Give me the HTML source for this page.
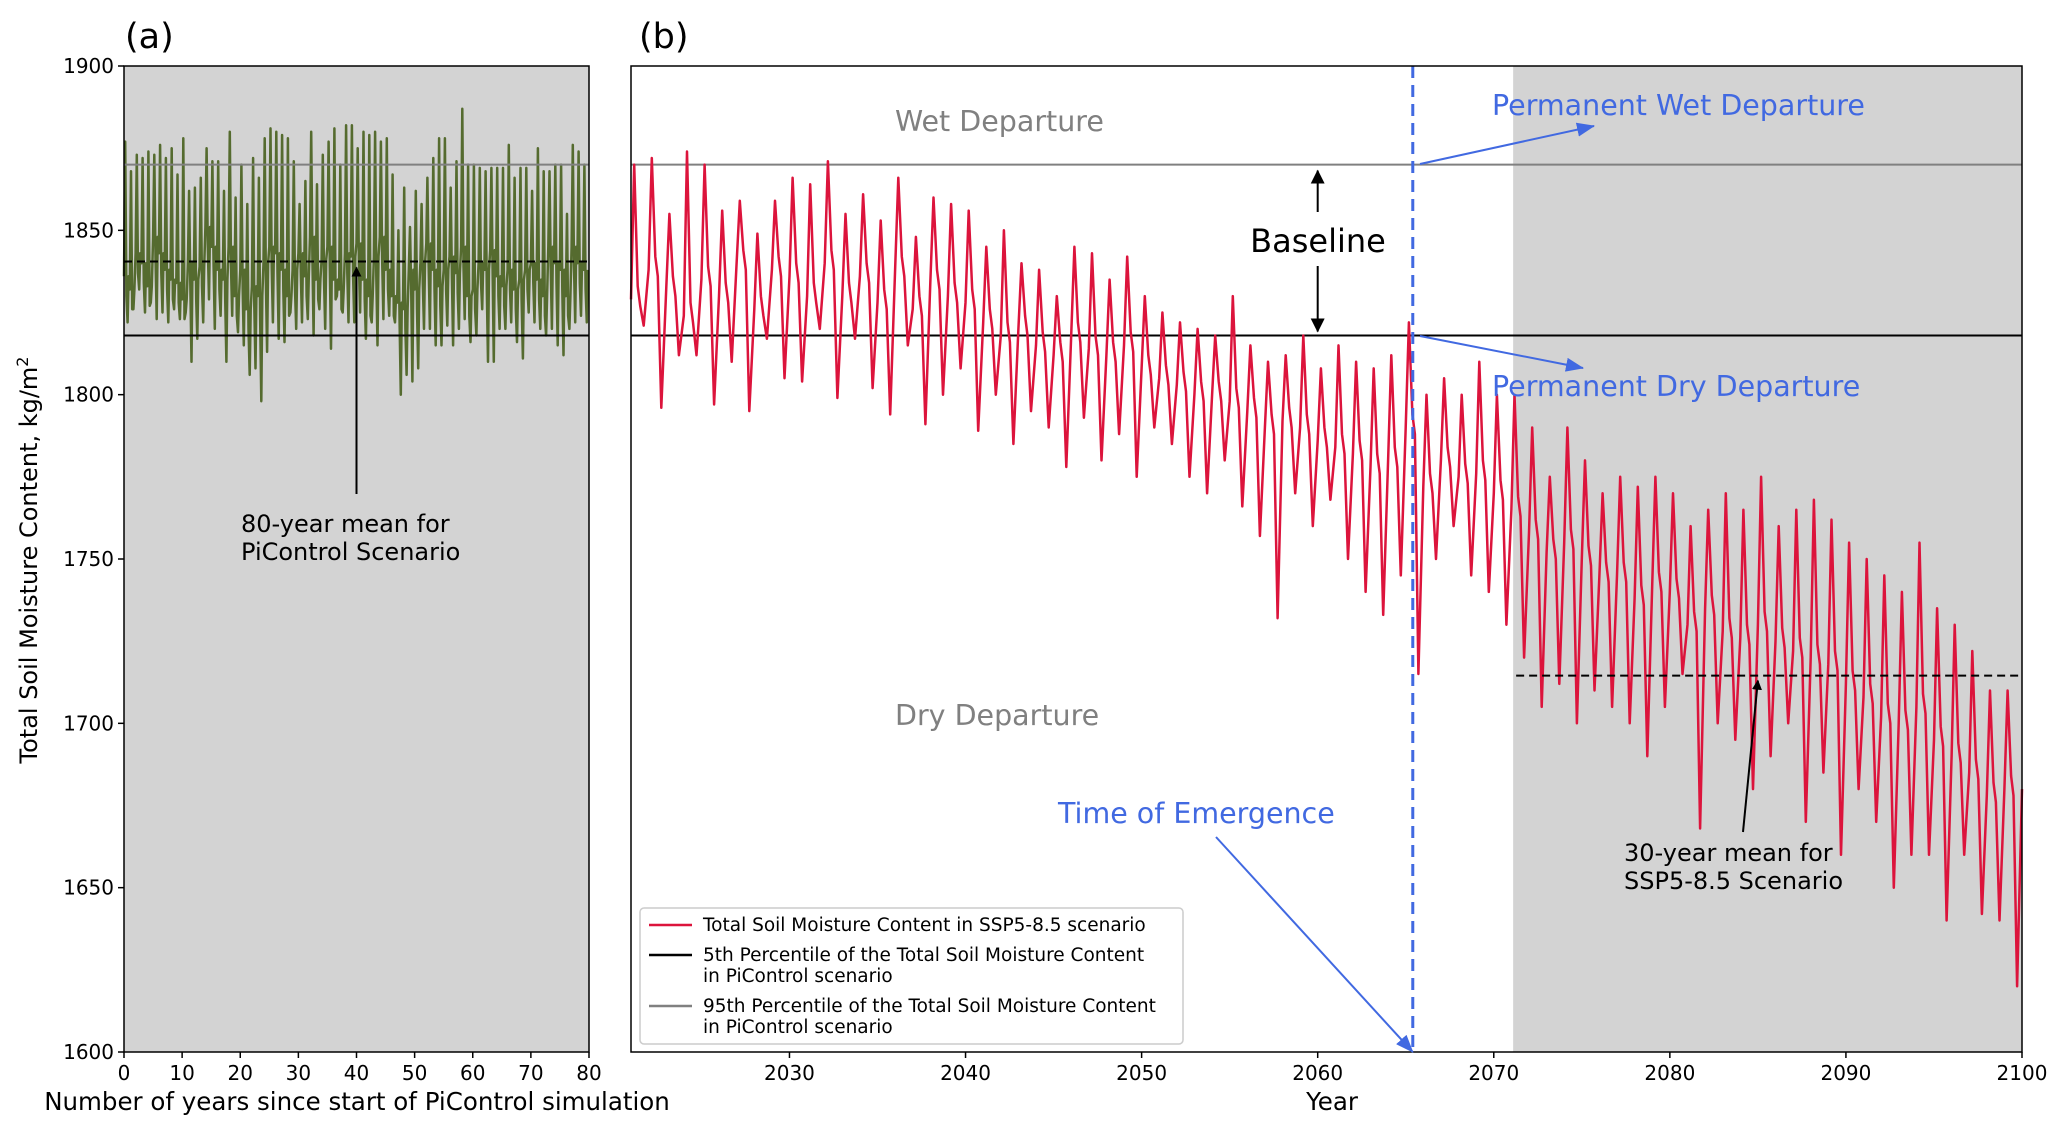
<!DOCTYPE html>
<html><head><meta charset="utf-8"><style>
body{margin:0;background:#fff}
svg{display:block;font-family:"DejaVu Sans","Liberation Sans",sans-serif}
</style></head><body>
<svg id="fig" width="2067" height="1134" viewBox="0 0 2067 1134" xmlns="http://www.w3.org/2000/svg">
<defs>
<marker id="ak" markerWidth="10" markerHeight="10" refX="9" refY="5" orient="auto" markerUnits="userSpaceOnUse"><path d="M0,0 L10,5 L0,10 z" fill="#000"/></marker>
<marker id="ab" markerWidth="18" markerHeight="14" refX="17" refY="7" orient="auto" markerUnits="userSpaceOnUse"><path d="M0,0 L18,7 L0,14 z" fill="#4169e1"/></marker>
<marker id="ak2" markerWidth="14" markerHeight="14" refX="13" refY="7" orient="auto" markerUnits="userSpaceOnUse"><path d="M0,0 L14,7 L0,14 z" fill="#000"/></marker>
</defs>
<g id="gA"></g>
<g id="gB"></g>
</svg>
<script>
// ---------- data ----------
const yTicks=[1600,1650,1700,1750,1800,1850,1900];
const aTicks=[0,10,20,30,40,50,60,70,80];
const bTicks=[2030,2040,2050,2060,2070,2080,2090,2100];
const p5=1818, p95=1870, piMean=1840.5, sspMean=1714.5, toeYear=2065.4, shadeStart=2071.1;
// panel a yearly highs / lows / mids (PiControl)
const aHigh=[1877,1868,1873,1872,1874,1873,1876,1872,1875,1867,1878,1862,1863,1866,1875,1871,1871,1862,1880,1860,1870,1858,1872,1866,1878,1881,1880,1879,1878,1871,1858,1865,1880,1864,1873,1877,1881,1870,1882,1882,1875,1880,1879,1880,1877,1878,1867,1850,1863,1851,1862,1858,1866,1872,1878,1878,1863,1871,1887,1870,1870,1869,1868,1869,1869,1869,1876,1866,1869,1869,1862,1875,1868,1868,1870,1870,1855,1876,1874,1870];
const aLow=[1822,1826,1832,1825,1828,1823,1825,1822,1826,1823,1825,1810,1817,1822,1829,1820,1824,1810,1824,1819,1815,1806,1808,1798,1813,1822,1817,1816,1825,1820,1822,1823,1818,1826,1820,1814,1830,1825,1822,1822,1825,1817,1822,1815,1823,1824,1822,1800,1806,1804,1808,1820,1820,1815,1815,1821,1815,1820,1823,1816,1818,1826,1810,1810,1820,1820,1822,1816,1811,1825,1822,1820,1818,1820,1815,1812,1820,1822,1824,1822];
const aMid=[1836,1832,1843,1840,1833,1848,1843,1838,1835,1834,1829,1840,1835,1839,1851,1845,1838,1835,1845,1830,1838,1826,1833,1830,1840,1845,1843,1838,1830,1838,1843,1836,1848,1835,1841,1845,1835,1832,1843,1842,1846,1835,1830,1842,1848,1838,1830,1828,1826,1838,1832,1840,1846,1838,1833,1838,1842,1837,1845,1830,1832,1840,1838,1844,1836,1833,1838,1832,1835,1838,1840,1835,1830,1845,1840,1838,1830,1845,1840,1838];
// panel b yearly peaks / troughs / shoulders (SSP5-8.5), years 2021..2099
const bYears=[2021,2022,2023,2024,2025,2026,2027,2028,2029,2030,2031,2032,2033,2034,2035,2036,2037,2038,2039,2040,2041,2042,2043,2044,2045,2046,2047,2048,2049,2050,2051,2052,2053,2054,2055,2056,2057,2058,2059,2060,2061,2062,2063,2064,2065,2066,2067,2068,2069,2070,2071,2072,2073,2074,2075,2076,2077,2078,2079,2080,2081,2082,2083,2084,2085,2086,2087,2088,2089,2090,2091,2092,2093,2094,2095,2096,2097,2098,2099];
const bPeak=[1870,1872,1855,1874,1870,1856,1859,1849,1859,1866,1864,1871,1855,1861,1853,1866,1848,1860,1858,1856,1845,1850,1840,1838,1830,1845,1843,1835,1842,1830,1825,1822,1820,1818,1830,1815,1810,1812,1818,1808,1815,1810,1808,1812,1822,1800,1805,1800,1810,1800,1800,1790,1775,1790,1780,1770,1775,1772,1775,1770,1760,1765,1770,1765,1775,1760,1765,1768,1762,1755,1750,1745,1740,1755,1735,1730,1722,1710,1710];
const bTrough=[1821,1796,1812,1812,1797,1810,1795,1817,1805,1804,1820,1799,1817,1802,1794,1815,1791,1800,1808,1789,1800,1785,1795,1790,1778,1793,1780,1788,1775,1790,1785,1775,1770,1780,1766,1757,1732,1770,1760,1768,1750,1740,1733,1745,1715,1750,1760,1745,1740,1730,1720,1705,1712,1700,1710,1705,1700,1690,1705,1715,1668,1700,1695,1680,1690,1700,1670,1685,1660,1680,1670,1650,1660,1660,1640,1660,1642,1640,1620];
const bShoulder=[1829,1838,1832,1824,1835,1830,1840,1826,1838,1836,1830,1840,1830,1836,1828,1838,1826,1834,1830,1828,1822,1818,1820,1815,1812,1818,1814,1812,1815,1808,1805,1803,1800,1800,1798,1795,1790,1792,1790,1786,1784,1782,1778,1780,1790,1772,1780,1775,1776,1770,1765,1758,1752,1755,1750,1745,1745,1738,1742,1740,1730,1735,1728,1726,1730,1725,1722,1720,1718,1712,1708,1702,1700,1705,1695,1690,1685,1678,1680];

// ---------- geometry ----------
const Y0=1052, Y1=66;
const ys=v=>Y0-(v-1600)/(1900-1600)*(Y0-Y1);
const AL=124, AR=589, BL=631, BR=2022;
const xa=v=>AL+v/80*(AR-AL);
const xb=v=>BL+(v-2021)/(2100-2021)*(BR-BL);
const NS="http://www.w3.org/2000/svg";
function mk(parent,tag,attrs,text){const e=document.createElementNS(NS,tag);for(const k in attrs)e.setAttribute(k,attrs[k]);if(text!==undefined)e.textContent=text;parent.appendChild(e);return e;}
const gA=document.getElementById('gA'), gB=document.getElementById('gB');

// ---------- panel a ----------
let r=mk(gA,'rect',{x:AL,y:Y1,width:AR-AL,height:Y0-Y1,fill:'#d3d3d3'});


let pts=[];
for(let i=0;i<aHigh.length;i++){
  const x0=xa(i);
  pts.push([x0,aMid[i]],[x0+1.2,aHigh[i]],[x0+2.4,aMid[i]-6],[x0+3.6,aLow[i]],[x0+4.6,aMid[i]]);
}
let pl=mk(gA,'polyline',{points:pts.map(p=>p[0].toFixed(1)+','+ys(p[1]).toFixed(1)).join(' '),fill:'none',stroke:'#556b2f','stroke-width':2.5,'stroke-linejoin':'round'});


let l=mk(gA,'line',{x1:AL,x2:AR,y1:ys(p95),y2:ys(p95),stroke:'#808080','stroke-width':2});


l=mk(gA,'line',{x1:AL,x2:AR,y1:ys(p5),y2:ys(p5),stroke:'#000','stroke-width':2});


l=mk(gA,'line',{x1:AL,x2:AR,y1:ys(piMean),y2:ys(piMean),stroke:'#000','stroke-width':2,'stroke-dasharray':'8,5'});


l=mk(gA,'line',{x1:xa(40),x2:xa(40),y1:494,y2:ys(piMean)+6,stroke:'#000','stroke-width':2,'marker-end':'url(#ak)'});


let t=mk(gA,'text',{x:241,y:532,'font-size':24},'80-year mean for');


mk(gA,'text',{x:241,y:560,'font-size':24},'PiControl Scenario');
r=mk(gA,'rect',{x:AL,y:Y1,width:AR-AL,height:Y0-Y1,fill:'none',stroke:'#000','stroke-width':1.5});


yTicks.forEach(v=>{
  mk(gA,'line',{x1:AL-6,x2:AL,y1:ys(v),y2:ys(v),stroke:'#000','stroke-width':1.5});
  const tt=mk(gA,'text',{x:AL-10,y:ys(v)+7,'font-size':20,'text-anchor':'end'},v);
  
  
});
aTicks.forEach(v=>{
  mk(gA,'line',{x1:xa(v),x2:xa(v),y1:Y0,y2:Y0+6,stroke:'#000','stroke-width':1.5});
  const tt=mk(gA,'text',{x:xa(v),y:Y0+28,'font-size':20,'text-anchor':'middle'},v);
  
  
});
t=mk(gA,'text',{x:357,y:1110,'font-size':24.5,'text-anchor':'middle'},'Number of years since start of PiControl simulation');


t=mk(gA,'text',{x:0,y:0,'font-size':24,'text-anchor':'middle',transform:'translate(37,560) rotate(-90)'});


t.innerHTML='Total Soil Moisture Content, kg/m<tspan dy="-9" font-size="16">2</tspan>';
t=mk(gA,'text',{x:125,y:48,'font-size':35},'(a)');



// ---------- panel b ----------
r=mk(gB,'rect',{x:xb(shadeStart),y:Y1,width:BR-xb(shadeStart),height:Y0-Y1,fill:'#d3d3d3'});


l=mk(gB,'line',{x1:BL,x2:BR,y1:ys(p95),y2:ys(p95),stroke:'#808080','stroke-width':2});


l=mk(gB,'line',{x1:BL,x2:BR,y1:ys(p5),y2:ys(p5),stroke:'#000','stroke-width':2});


pts=[];
for(let i=0;i<bYears.length;i++){
  const y=bYears[i];
  pts.push([y,bShoulder[i]],[y+0.18,bPeak[i]],[y+0.38,bShoulder[i]+4],[y+0.52,bShoulder[i]-2],[y+0.72,bTrough[i]]);
}
pts.push([2100,bShoulder[bShoulder.length-1]]);
pl=mk(gB,'polyline',{points:pts.map(p=>xb(p[0]).toFixed(1)+','+ys(p[1]).toFixed(1)).join(' '),fill:'none',stroke:'#dc143c','stroke-width':2.5,'stroke-linejoin':'round'});


l=mk(gB,'line',{x1:xb(shadeStart)+3,x2:BR,y1:ys(sspMean),y2:ys(sspMean),stroke:'#000','stroke-width':2,'stroke-dasharray':'8,5'});


l=mk(gB,'line',{x1:xb(toeYear),x2:xb(toeYear),y1:Y1,y2:Y0,stroke:'#4169e1','stroke-width':3,'stroke-dasharray':'12,7'});


r=mk(gB,'rect',{x:BL,y:Y1,width:BR-BL,height:Y0-Y1,fill:'none',stroke:'#000','stroke-width':1.5});


bTicks.forEach(v=>{
  mk(gB,'line',{x1:xb(v),x2:xb(v),y1:Y0,y2:Y0+6,stroke:'#000','stroke-width':1.5});
  const tt=mk(gB,'text',{x:xb(v),y:Y0+28,'font-size':20,'text-anchor':'middle'},v);
  
  
});
t=mk(gB,'text',{x:1332,y:1110,'font-size':24.5,'text-anchor':'middle'},'Year');


t=mk(gB,'text',{x:639,y:48,'font-size':35},'(b)');


t=mk(gB,'text',{x:895,y:131,'font-size':28.5,fill:'#808080'},'Wet Departure');


t=mk(gB,'text',{x:895,y:725,'font-size':28.5,fill:'#808080'},'Dry Departure');


t=mk(gB,'text',{x:1318,y:252,'font-size':32,'text-anchor':'middle'},'Baseline');


l=mk(gB,'line',{x1:xb(2060),x2:xb(2060),y1:212,y2:ys(p95)+6,stroke:'#000','stroke-width':2,'marker-end':'url(#ak2)'});


l=mk(gB,'line',{x1:xb(2060),x2:xb(2060),y1:266,y2:ys(p5)-4,stroke:'#000','stroke-width':2,'marker-end':'url(#ak2)'});


t=mk(gB,'text',{x:1492,y:115,'font-size':28.5,fill:'#4169e1'},'Permanent Wet Departure');


l=mk(gB,'line',{x1:1420,y1:164,x2:1594,y2:126,stroke:'#4169e1','stroke-width':2,'marker-end':'url(#ab)'});


t=mk(gB,'text',{x:1492,y:396,'font-size':28.5,fill:'#4169e1'},'Permanent Dry Departure');


l=mk(gB,'line',{x1:1420,y1:336,x2:1583,y2:368,stroke:'#4169e1','stroke-width':2,'marker-end':'url(#ab)'});


t=mk(gB,'text',{x:1058,y:823,'font-size':28.5,fill:'#4169e1'},'Time of Emergence');


l=mk(gB,'line',{x1:1216,y1:837,x2:xb(toeYear),y2:Y0,stroke:'#4169e1','stroke-width':2,'marker-end':'url(#ab)'});


t=mk(gB,'text',{x:1624,y:861,'font-size':24},'30-year mean for');


mk(gB,'text',{x:1624,y:889,'font-size':24},'SSP5-8.5 Scenario');
l=mk(gB,'line',{x1:1743,y1:832,x2:xb(2085),y2:ys(sspMean)+5,stroke:'#000','stroke-width':2,'marker-end':'url(#ak)'});


// legend
const lg=mk(gB,'g',{});


mk(lg,'rect',{x:640,y:908,width:543,height:136,rx:4,fill:'#fff','fill-opacity':0.85,stroke:'#ccc','stroke-width':1.5});
const legItems=[['#dc143c',925,['Total Soil Moisture Content in SSP5-8.5 scenario']],['#000',955,['5th Percentile of the Total Soil Moisture Content','in PiControl scenario']],['#808080',1006,['95th Percentile of the Total Soil Moisture Content','in PiControl scenario']]];
legItems.forEach(it=>{
  const e=mk(lg,'g',{});
  
  
  mk(e,'line',{x1:649,x2:692,y1:it[1],y2:it[1],stroke:it[0],'stroke-width':2.5});
  it[2].forEach((s,k)=>mk(e,'text',{x:703,y:it[1]+6+k*21,'font-size':18.5},s));
});
</script>
</body></html>
